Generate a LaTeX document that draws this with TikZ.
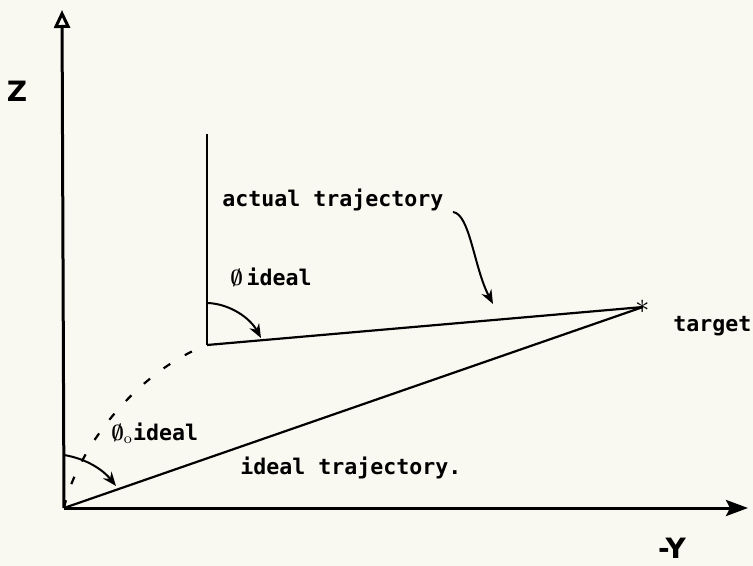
\documentclass[tikz,border=0pt]{standalone}
\usepackage{amsmath}
\usepackage{fontspec}
\setmonofont{DejaVu Sans Mono}
\setsansfont{DejaVu Sans}
\usetikzlibrary{arrows.meta,positioning}
\definecolor{paper}{RGB}{250,249,241}

\begin{document}
\begin{tikzpicture}[
    x=0.5pt, y=-0.5pt,
    axis/.style={line width=1.5pt},
    traj/.style={line width=1.1pt},
    curvearrow/.style={line width=1pt, -{Stealth[length=7pt,width=5.5pt]}},
    lbl/.style={font=\ttfamily\bfseries\fontsize{10.8}{13}\selectfont, inner sep=0pt},
    axlbl/.style={font=\sffamily\bfseries\fontsize{14}{17}\selectfont, inner sep=0pt}
]
\fill[paper] (0,0) rectangle (753,566);
\useasboundingbox (0,0) rectangle (753,566);

% axes
\coordinate (O) at (64,508);
\coordinate (ztop) at (62,10);
\coordinate (yend) at (748,508);
\draw[axis, -{Triangle[open, length=9pt, width=8pt, fill=paper]}] (O) -- (ztop);
\draw[axis, -{Stealth[length=11pt, width=8pt, inset=2pt]}] (O) -- (yend);
\node[axlbl] (zlbl) at (17,91) {Z};
\node[axlbl] (ylbl) at (672,548) {-Y};

% trajectories
\coordinate (start) at (207,345);
\coordinate (vtop) at (207,134);
\node[font=\Large\bfseries, inner sep=0pt] (target) at (643,307) {$\ast$};
\draw[line width=0.8pt] (vtop) -- (start);
\draw[traj] (start) -- (target.center);
\draw[traj] (O) -- (target.center);
\draw[traj, dash pattern=on 4pt off 8.5pt] (O) .. controls (78,445) and (140,370) .. (start);

% labels
\node[lbl, anchor=west] (actual) at (222,200) {actual trajectory};
\node[lbl, anchor=west] (ideal) at (240,468) {ideal trajectory.};
\node[lbl, anchor=west] (tgtlbl) at (673,326) {target};
\node[lbl, anchor=west] (phi) at (230,277) {$\boldsymbol{\emptyset}$\,ideal};
\node[lbl, anchor=west] (phio) at (111,433) {$\boldsymbol{\emptyset}_{\mathrm{o}}$ideal};

% angle arrows
\coordinate (a1) at (64,455);
\coordinate (a2) at (116,486);
\draw[curvearrow] (a1) .. controls (88,459) and (104,471) .. (a2);
\coordinate (b1) at (208,303);
\coordinate (b2) at (261,338);
\draw[curvearrow] (b1) .. controls (230,304) and (250,318) .. (b2);
\coordinate (c1) at (453,212);
\coordinate (c2) at (493,304);
\draw[curvearrow] (c1) .. controls (470,214) and (474,268) .. (c2);
\end{tikzpicture}
\end{document}
